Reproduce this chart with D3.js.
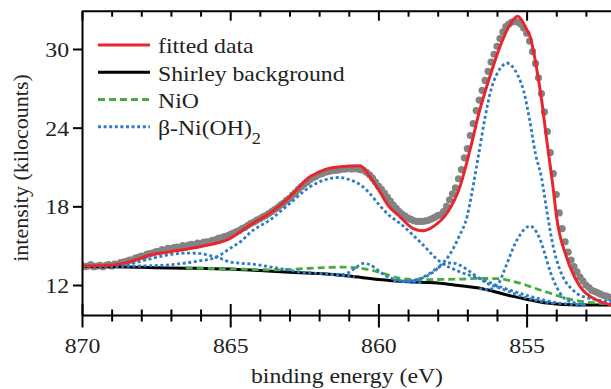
<!DOCTYPE html>
<html><head><meta charset="utf-8">
<script src="https://cdn.jsdelivr.net/npm/d3@7"></script>
<style>body{margin:0;background:#fff}svg{display:block}</style>
</head><body>
<svg id="c" width="611" height="389"></svg>
<script>
// ---------- data ----------
const xMajorTicks = [870, 865, 860, 855];
const xMinorTicks = [869, 868, 867, 866, 864, 863, 862, 861, 859, 858, 857, 856, 854, 853];
const yTicks = [12, 18, 24, 30];
const xLabel = "binding energy (eV)";
const yLabel = "intensity (kilocounts)";
const legendLabels = ["fitted data", "Shirley background", "NiO", "β-Ni(OH)"];
const legendSub = ["", "", "", "2"];

// measured spectrum: energies start at 870.0 eV, one point every 0.1 eV
const dataStart = 870.0, dataStep = 0.1;
const dataValues = [
 13.5,13.4,13.45,13.55,13.4,13.45,13.5,13.4,13.5,13.55,
 13.45,13.6,13.55,13.7,13.75,13.8,13.9,13.9,14.05,14.1,
 14.2,14.2,14.35,14.4,14.45,14.55,14.55,14.7,14.65,14.8,
 14.75,14.85,14.9,14.85,15.0,14.95,15.05,15.1,15.05,15.2,
 15.15,15.25,15.3,15.3,15.4,15.45,15.55,15.6,15.7,15.75,
 15.85,15.95,16.05,16.15,16.3,16.4,16.55,16.7,16.8,16.95,
 17.05,17.2,17.3,17.45,17.6,17.75,17.9,18.1,18.25,18.45,
 18.6,18.85,19.05,19.3,19.5,19.7,19.85,20.05,20.2,20.3,
 20.45,20.5,20.6,20.65,20.7,20.75,20.75,20.8,20.85,20.85,
 20.9,20.85,20.9,20.85,20.8,20.75,20.6,20.4,20.15,19.85,
 19.55,19.3,19.0,18.7,18.4,18.1,17.85,17.6,17.4,17.25,
 17.1,17.0,16.9,16.85,16.85,16.85,16.9,16.95,17.05,17.15,
 17.3,17.35,17.6,18.0,18.5,18.95,19.4,20.1,20.8,21.7,
 22.4,23.4,24.3,25.3,26.1,26.85,27.6,28.3,29.0,29.6,
 30.2,30.8,31.3,31.7,31.9,32.05,32.1,32.05,31.9,31.6,
 31.2,30.6,29.8,28.9,27.8,26.6,25.2,23.7,22.1,20.5,
 18.9,17.5,16.3,15.3,14.5,13.9,13.4,13.0,12.6,12.3,
 12.0,11.8,11.6,11.5,11.4,11.3,11.2,11.15,11.05
];

const fitted = [
 [870,13.45],[869.06,13.5],[868.38,13.78],[867.7,14.29],[867.03,14.54],[866.02,14.92],
 [865.0,15.56],[864.33,16.58],[863.66,17.47],[862.98,18.74],[862.31,20.26],[861.97,20.64],
 [861.64,20.9],[860.96,21.08],[860.62,21.1],[860.29,20.26],[859.95,19.1],[859.68,18.1],
 [859.27,17.2],[858.84,16.32],[858.5,16.14],[858.16,16.45],[857.69,17.47],[857.25,19.5],
 [856.91,22.3],[856.58,25.35],[856.24,27.9],[855.9,30.18],[855.57,31.83],[855.3,32.5],
 [855.0,31.5],[854.89,31.0],[854.66,28.5],[854.5,26.2],[854.33,23.2],[854.1,19.3],
 [853.99,17.2],[853.65,14.1],[853.37,12.55],[853.1,11.6],[852.87,11.15],[852.63,10.85],
 [852.43,10.65],[852.15,10.5]
];

const shirley = [
 [870,13.42],[869,13.4],[868,13.35],[867,13.3],[866,13.27],[865,13.22],[864,13.1],
 [863,12.98],[862,12.87],[861,12.68],[860,12.42],[859,12.25],[858,12.15],[857.5,12.02],
 [857,11.88],[856.5,11.72],[856,11.45],[855.5,11.15],[855,10.92],[854.5,10.68],
 [854,10.56],[853.5,10.5],[853,10.48],[852.15,10.47]
];

const nio = [
 [866.5,13.3],[865.5,13.25],[864.5,13.2],[863.5,13.15],[862.5,13.25],[861.8,13.33],
 [861.2,13.36],[860.6,13.28],[860.1,13.05],[859.7,12.78],[859.3,12.52],[858.7,12.4],
 [858,12.42],[857.25,12.45],[856.6,12.5],[855.9,12.48],[855.5,12.3],[855.2,12.13],
 [854.9,11.9],[854.55,11.62],[854.2,11.37],[853.65,10.98],[853.1,10.73],[852.5,10.6],
 [852.15,10.56]
];

const nioh1 = [
 [870,13.42],[869.2,13.42],[868.8,13.46],[868.4,13.6],[868,13.82],[867.5,14.1],[867,14.33],
 [866.5,14.43],[866.1,14.42],[865.7,14.25],[865.3,14.0],[865,13.75],[864.6,13.65],
 [864.3,13.6],[863.7,13.4],[863.2,13.2],[862.6,12.98],[862,12.88],[861.3,12.75],[860.8,12.6]
];
const nioh2 = [
 [870,13.42],[869,13.42],[868,13.45],[867,13.55],[866.6,13.65],[866,13.85],[865.5,14.1],
 [865,14.8],[864.6,15.4],[864.3,16.05],[863.66,16.96],[863,18.2],[862.3,19.5],
 [861.6,20.14],[861.3,20.2],[860.96,20.02],[860.6,19.63],[860.3,19.0],[859.95,18.05],
 [859.68,17.4],[859.27,16.7],[858.6,15.3],[857.93,13.8],[857.25,13.0],[856.58,12.5],
 [855.9,11.87],[855.2,11.35],[854.5,10.9],[854,10.65],[853.5,10.53],[853,10.49]
];
const nioh3 = [
 [859.2,12.25],[858.8,12.35],[858.4,12.7],[858,13.3],[857.7,13.65],[857.5,13.68],
 [857.2,13.45],[856.9,13.0],[856.6,12.5],[856.3,12.1],[856,11.85],[855.6,11.5],
 [855.2,11.15],[854.8,10.9],[854.4,10.7],[854,10.58]
];
const nioh4 = [
 [861.8,12.8],[861.3,12.78],[861.0,12.95],[860.75,13.35],[860.5,13.65],[860.25,13.5],
 [860.0,13.1],[859.75,12.7],[859.4,12.4],[859.0,12.25],[858.5,12.15]
];
const nioh5 = [
 [859.5,12.32],[859,12.3],[858.5,12.55],[858.2,12.9],[857.9,13.5],[857.6,14.3],
 [857.3,15.6],[857.0,17.3],[856.8,19.6],[856.6,22.2],[856.4,24.8],[856.2,26.9],
 [856.0,28.1],[855.8,28.75],[855.68,28.93],[855.5,28.7],[855.3,28.0],[855.1,26.8],
 [854.9,24.6],[854.7,22.0],[854.5,20.2],[854.3,17.4],[854.1,14.9],[853.9,13.3],
 [853.7,12.3],[853.5,11.75],[853.3,11.35],[853.0,11.05],[852.7,10.9],[852.4,10.8],[852.15,10.75]
];
const nioh6 = [
 [856.6,11.72],[856.3,11.65],[856.1,11.8],[855.95,12.1],[855.8,12.85],[855.6,14.0],
 [855.4,15.1],[855.2,15.9],[855.0,16.4],[854.89,16.5],[854.75,16.3],[854.55,15.5],
 [854.4,14.5],[854.2,13.0],[854.0,11.9],[853.8,11.15],[853.6,10.8],[853.3,10.6],[853.0,10.5]
];

// ---------- drawing ----------
const svg = d3.select("#c");
const padL = 82, padR = 611, padT = 10.7, padB = 315;
const FONT = "Liberation Serif, Times New Roman, serif";
const SX = 1.08;

const x = d3.scaleLinear().domain([870, 852.153]).range([padL, padR]);
const y = d3.scaleLinear().domain([9.712, 32.92]).range([padB, padT]);

svg.append("defs").append("clipPath").attr("id","clip")
  .append("rect").attr("x",padL).attr("y",padT).attr("width",padR-padL).attr("height",padB-padT);

const plot = svg.append("g").attr("clip-path","url(#clip)");

const line = d3.line().x(d => x(d[0])).y(d => y(d[1])).curve(d3.curveMonotoneX);

// data points
plot.append("g").selectAll("circle").data(dataValues).join("circle")
  .attr("cx", (d,i) => x(dataStart - i*dataStep))
  .attr("cy", d => y(d))
  .attr("r", 3.6)
  .attr("fill", "#838383");

// Shirley background
plot.append("path").datum(shirley).attr("d", line)
  .attr("fill","none").attr("stroke","#000").attr("stroke-width",3);

// NiO
plot.append("path").datum(nio).attr("d", line)
  .attr("fill","none").attr("stroke","#45ad3e").attr("stroke-width",2.8)
  .attr("stroke-dasharray","7,4");

// beta-Ni(OH)2 components
[nioh1, nioh2, nioh3, nioh4, nioh5, nioh6].forEach(c => {
  plot.append("path").datum(c).attr("d", line)
    .attr("fill","none").attr("stroke","#2f7bc4").attr("stroke-width",2.8)
    .attr("stroke-dasharray","3,2.6");
});

// fitted data
plot.append("path").datum(fitted).attr("d", line)
  .attr("fill","none").attr("stroke","#e8262d").attr("stroke-width",3);

// ---------- axes ----------
function styleAxis(g){
  g.selectAll("path.domain").attr("stroke","#000").attr("stroke-width",2);
  g.selectAll(".tick line").attr("stroke","#000").attr("stroke-width",2);
}

// bottom major
const gB = svg.append("g").attr("transform",`translate(0,${padB})`)
  .call(d3.axisBottom(x).tickValues(xMajorTicks).tickSizeInner(12.5).tickSizeOuter(0).tickFormat(d3.format("d")));
styleAxis(gB);
gB.selectAll(".tick line").attr("y1",-11);
gB.selectAll(".tick text")
  .attr("y",null).attr("dy",null)
  .attr("transform",`translate(0,37.8) scale(${SX},1)`)
  .attr("font-family",FONT).attr("font-size",22).attr("fill","#222");

// bottom minor
const gBm = svg.append("g").attr("transform",`translate(0,${padB})`)
  .call(d3.axisBottom(x).tickValues(xMinorTicks).tickSizeInner(6.5).tickSizeOuter(0).tickFormat(""));
styleAxis(gBm);
gBm.select("path.domain").remove();
gBm.selectAll(".tick line").attr("y1",-5.5);

// top major/minor (inward)
const gT = svg.append("g").attr("transform",`translate(0,${padT})`)
  .call(d3.axisTop(x).tickValues(xMajorTicks).tickSizeInner(-10).tickSizeOuter(0).tickFormat(""));
styleAxis(gT);
const gTm = svg.append("g").attr("transform",`translate(0,${padT})`)
  .call(d3.axisTop(x).tickValues(xMinorTicks).tickSizeInner(-6).tickSizeOuter(0).tickFormat(""));
styleAxis(gTm);
gTm.select("path.domain").remove();

// left
const gL = svg.append("g").attr("transform",`translate(${padL},0)`)
  .call(d3.axisLeft(y).tickValues(yTicks).tickSizeInner(9).tickSizeOuter(0).tickFormat(d3.format("d")));
styleAxis(gL);
gL.selectAll(".tick text")
  .attr("x",null).attr("dy",null)
  .attr("transform",`translate(-13,7.4) scale(${SX},1)`)
  .attr("font-family",FONT).attr("font-size",22).attr("fill","#222");

// axis titles
svg.append("text")
  .attr("transform",`translate(347,383) scale(${SX},1)`)
  .attr("text-anchor","middle").attr("font-family",FONT).attr("font-size",22).attr("fill","#222")
  .text(xLabel);
svg.append("text")
  .attr("transform","translate(28,168) rotate(-90)")
  .attr("text-anchor","middle").attr("font-family",FONT).attr("font-size",22).attr("fill","#222")
  .text(yLabel);

// ---------- legend ----------
const legendStyles = [
  {stroke:"#e8262d", dash:null},
  {stroke:"#000", dash:null},
  {stroke:"#45ad3e", dash:"7,4"},
  {stroke:"#2f7bc4", dash:"3,2.6"}
];
const legY = d3.scalePoint().domain(d3.range(legendLabels.length)).range([45, 126.7]);
const leg = svg.append("g");
legendLabels.forEach((lab, i) => {
  const yy = legY(i);
  leg.append("line").attr("x1",98).attr("x2",150).attr("y1",yy).attr("y2",yy)
    .attr("stroke",legendStyles[i].stroke).attr("stroke-width",3)
    .attr("stroke-dasharray",legendStyles[i].dash);
  const t = leg.append("text")
    .attr("transform",`translate(158,${yy+8.3}) scale(${SX},1)`)
    .attr("font-family",FONT).attr("font-size",22).attr("fill","#222");
  t.append("tspan").text(lab);
  if (legendSub[i]) t.append("tspan").attr("dy",9).attr("font-size",17).text(legendSub[i]);
});
</script>
</body></html>
